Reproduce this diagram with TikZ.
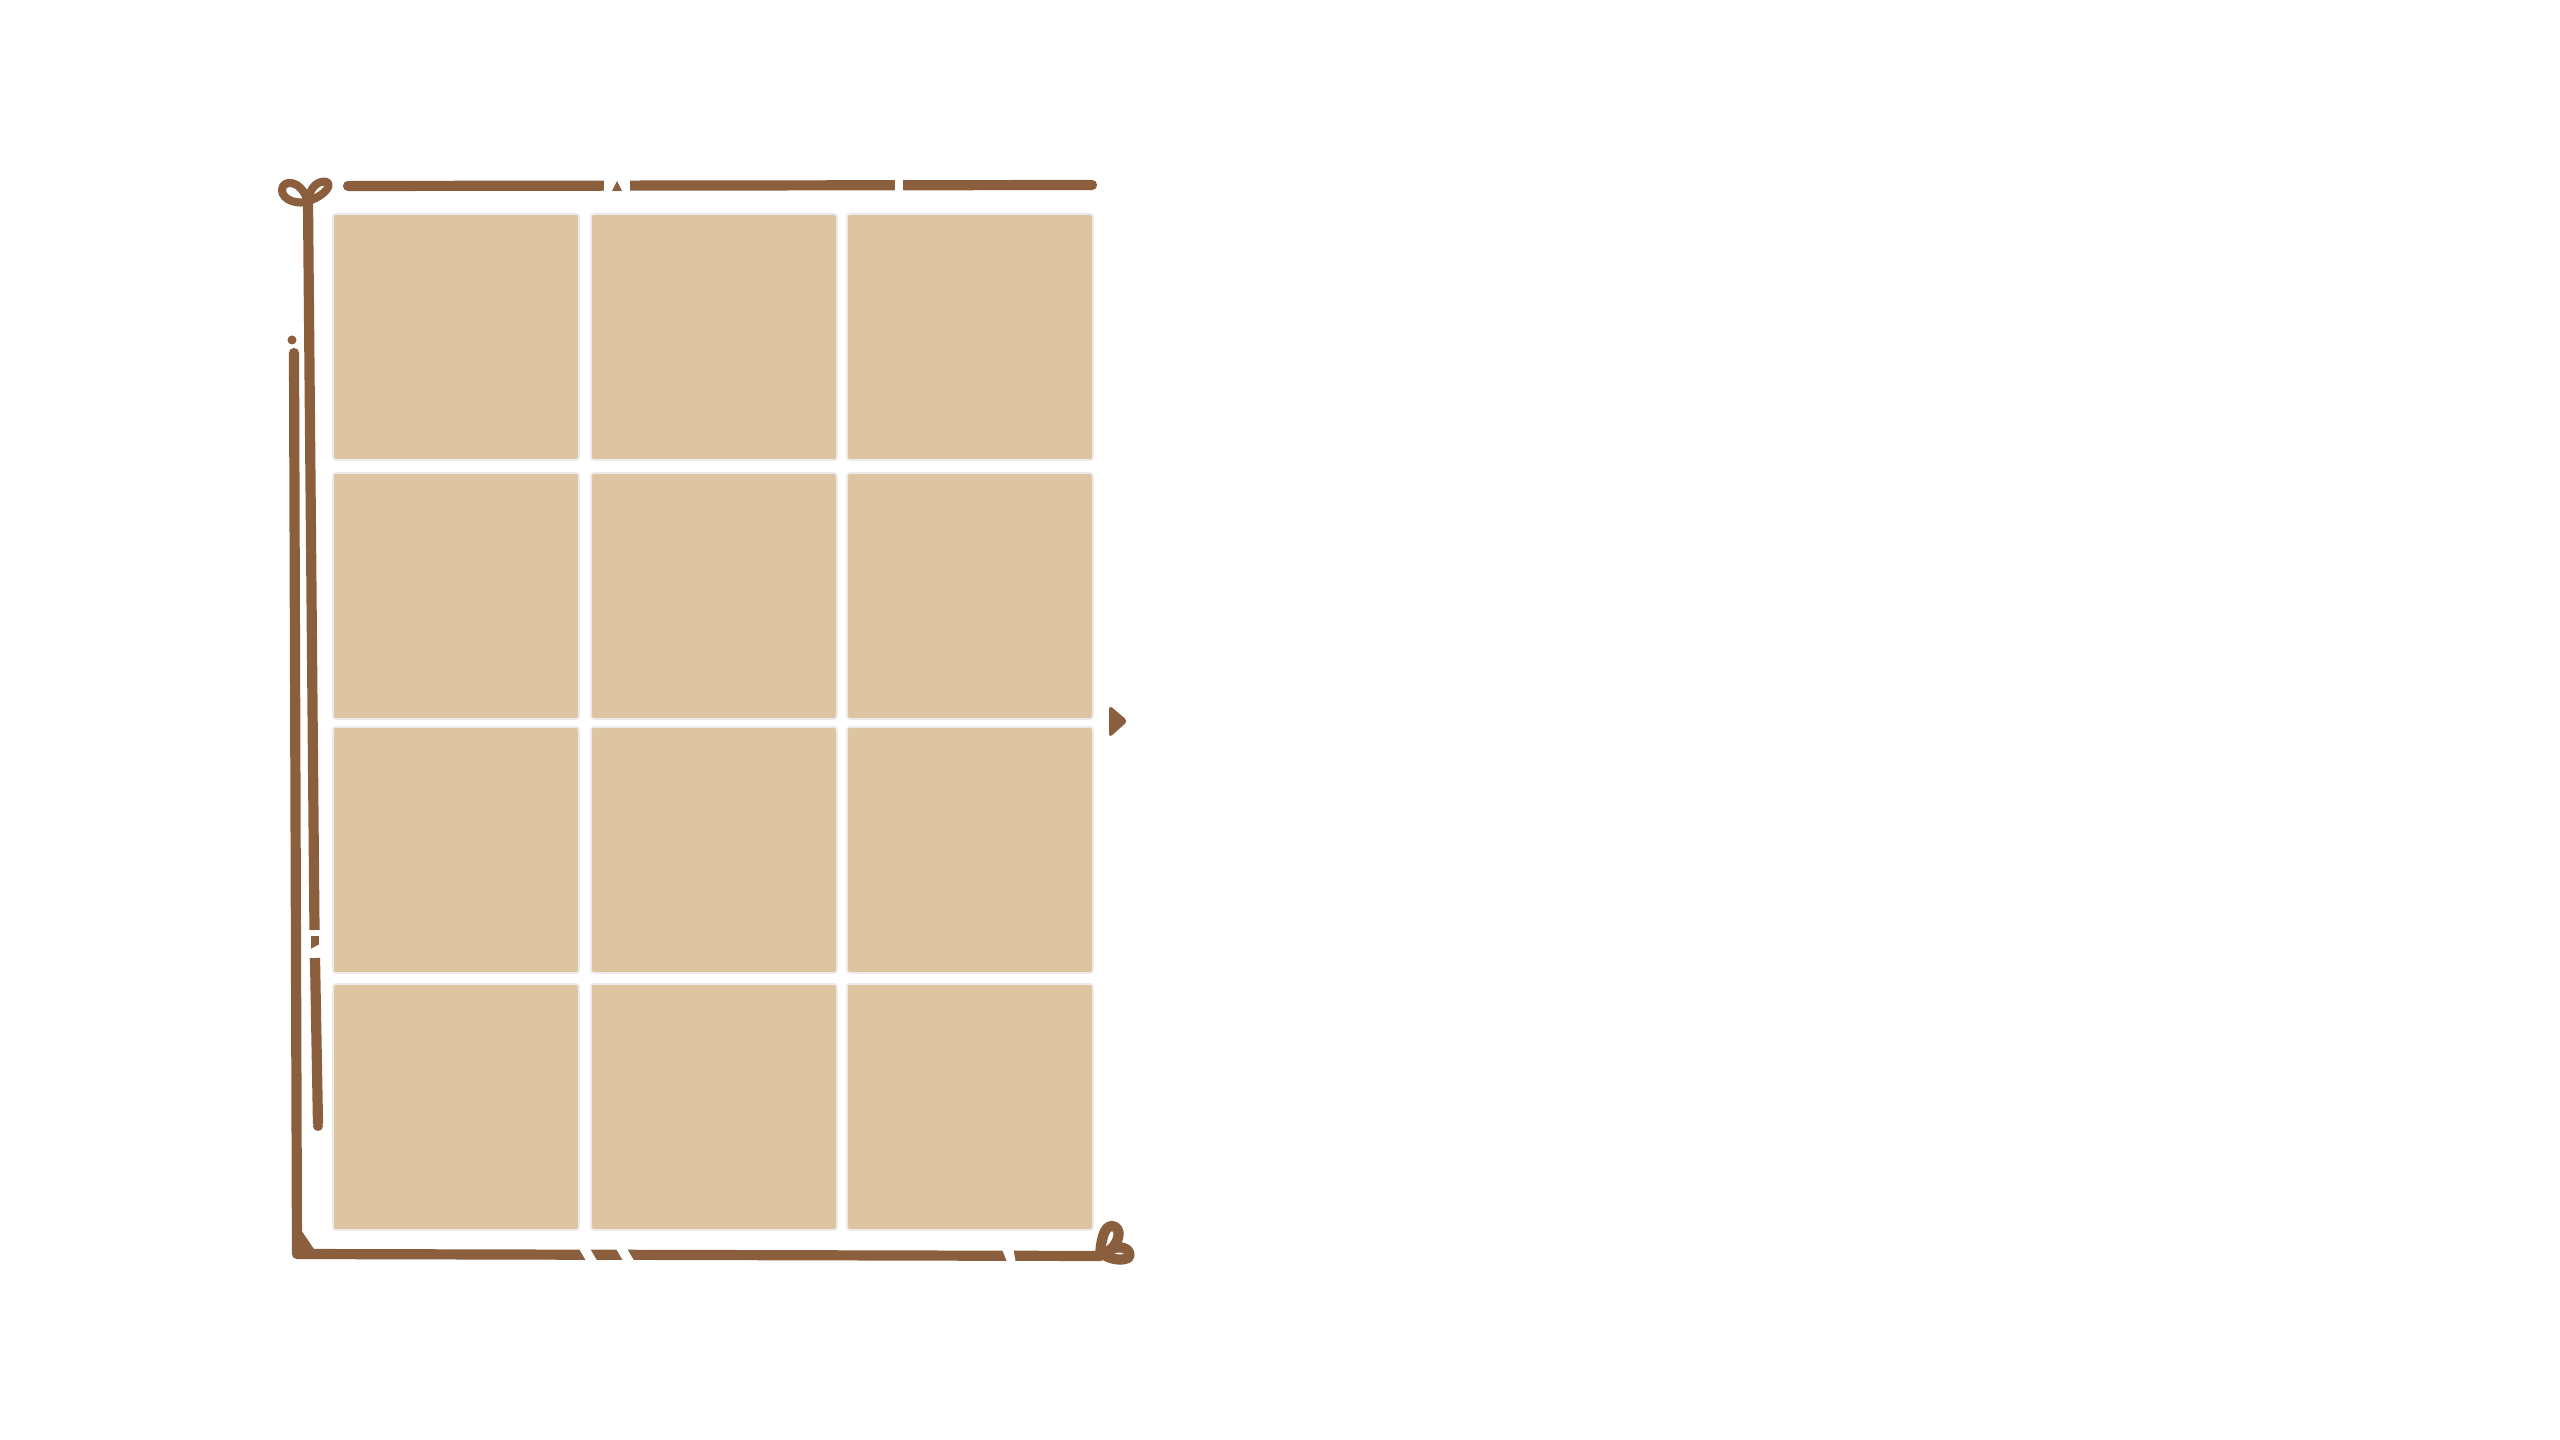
\documentclass[tikz,border=0pt]{standalone}
\definecolor{frame}{HTML}{8B5E3E}
\definecolor{tile}{HTML}{DEC5A1}
\tikzset{
  tilebox/.style={draw=black!8, line width=0.5pt, fill=tile, rounded corners=0.3mm,
    minimum width=2.46cm, minimum height=2.46cm, inner sep=0pt, anchor=north west},
  frameline/.style={draw=frame, line width=2.9pt, line cap=round, line join=round},
  loopline/.style={draw=frame, line width=2.3pt, line cap=round, line join=round},
  gapcut/.style={fill=white, draw=none}
}
\begin{document}
\begin{tikzpicture}[x=0.01cm, y=-0.01cm]
\useasboundingbox (0,0) rectangle (2560,1440);
\fill[white] (0,0) rectangle (2560,1440);
% tiles
\foreach \c/\x in {1/332, 2/590, 3/846}{
  \foreach \r/\y in {1/213, 2/472, 3/726, 4/983}{
    \node[tilebox] (t\r\c) at (\x,\y) {};
  }
}
% top line
\coordinate (tl1) at (348,186);
\coordinate (tl2) at (1092,185);
\draw[frameline] (tl1) -- (tl2);
\fill[gapcut] (604,178) rectangle (630,194);
\fill[gapcut] (895,178) rectangle (903,194);
\fill[frame] (612,191) -- (617,181) -- (622,191) -- cycle;
% stem with top loops
\coordinate (st) at (308,201);
\draw[loopline] (st) .. controls (300,205) and (282,201) .. (282,190)
   .. controls (282,180) and (300,178) .. (st);
\draw[loopline] (st) .. controls (310,186) and (319,180) .. (327,182)
   .. controls (333,187) and (320,198) .. (st);
\draw[frameline, line cap=butt] (st) -- (314.5,930);
\fill[frame] (310.5,936) rectangle (318.5,950);
\fill[gapcut] (309,950) -- (320,944) -- (320,951) -- (309,955) -- cycle;
\draw[frameline] (st) -- (308,206);
\coordinate (se) at (318,1126);
\draw[frameline, line cap=butt] (315,958) -- (318,1124);
\fill[frame] (se) circle (5);
% outer left line and bottom
\fill[frame] (292,340) circle (4.5);
\coordinate (ol1) at (294,353);
\coordinate (ol2) at (297,1254);
\coordinate (bl2) at (1100,1256);
\draw[frameline] (ol1) -- (ol2) -- (bl2);
\fill[frame] (297,1224) -- (298,1255) -- (318,1255) -- cycle;
\fill[gapcut] (578,1247) -- (589,1247) -- (599,1264) -- (588,1264) -- cycle;
\fill[gapcut] (615,1247) -- (626,1247) -- (636,1264) -- (625,1264) -- cycle;
\fill[gapcut] (1001,1247) -- (1013,1247) -- (1016,1264) -- (1008,1264) -- cycle;
% bottom-right curl
\draw[frameline] (bl2) .. controls (1101,1240) and (1104,1226) .. (1112,1226)
   .. controls (1122,1227) and (1120,1242) .. (1110,1250)
   .. controls (1120,1244) and (1132,1249) .. (1129,1257)
   .. controls (1125,1261) and (1113,1260) .. (1106,1256);
% right marker
\fill[frame, rounded corners=0.4mm] (1109,705) -- (1128,721) -- (1109,738) -- cycle;
\end{tikzpicture}
\end{document}
